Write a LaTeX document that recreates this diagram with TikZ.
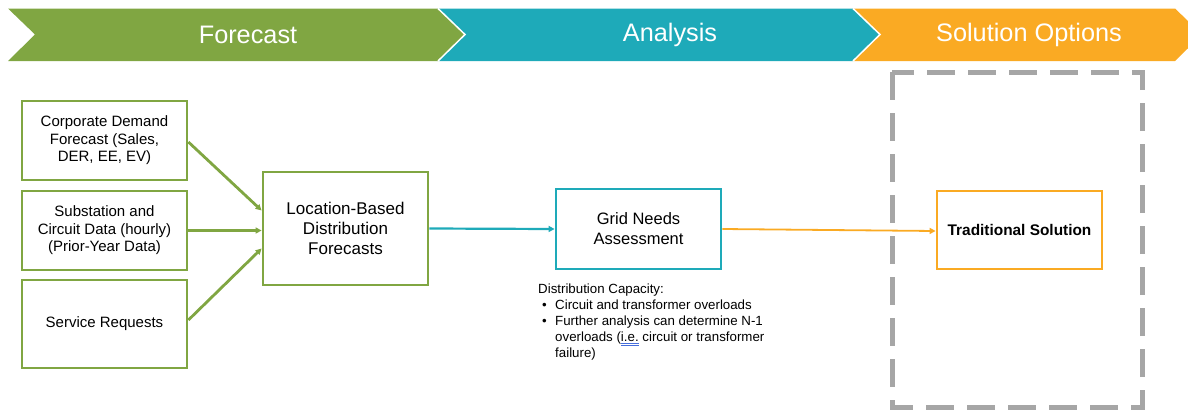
\documentclass[tikz,border=0pt]{standalone}
\usepackage{fontspec}
\setmainfont{Liberation Sans}
\usetikzlibrary{arrows.meta,calc}
\definecolor{cgreen}{RGB}{128,166,66}
\definecolor{cteal}{RGB}{30,170,185}
\definecolor{corange}{RGB}{250,170,35}
\definecolor{cgray}{RGB}{166,166,166}
\definecolor{ulblue}{RGB}{70,110,220}
\newcommand{\dblul}[1]{\setbox0\hbox{#1}\rlap{\color{ulblue}\rule[-2.2pt]{\wd0}{0.7pt}}\rlap{\color{ulblue}\rule[-4pt]{\wd0}{0.7pt}}\box0\relax}
\tikzset{
  chev/.style={draw=white, line width=1.5pt},
  chevtext/.style={text=white, font=\fontsize{25.3}{29}\selectfont},
  srcbox/.style={draw=cgreen, line width=2.8pt, fill=white, minimum width=165pt, align=center, inner sep=0pt, font=\fontsize{15}{17.5}\selectfont},
  mainbox/.style={line width=2.8pt, fill=white, minimum width=165pt, align=center, inner sep=0pt, font=\fontsize{17}{20}\selectfont},
  garrow/.style={draw=cgreen, line width=2.8pt, -{Triangle[length=6pt,width=6pt]}},
  tarrow/.style={draw=cteal, line width=2.2pt, -{Triangle[length=6pt,width=6pt]}},
  oarrow/.style={draw=corange, line width=1.8pt, -{Triangle[length=6pt,width=6pt]}},
}
\begin{document}
\begin{tikzpicture}[x=1pt,y=-1pt]
\useasboundingbox (0,0) rectangle (1188,410);
\begin{scope}
\clip (0,0) rectangle (1188,410);
% chevrons
\fill[cgreen] (8,8.5) -- (438,8.5) -- (465,34.5) -- (438,61) -- (8,61) -- (35,34.5) -- cycle;
\fill[cteal] (438,8.5) -- (853,8.5) -- (880,34.5) -- (853,61) -- (438,61) -- (465,34.5) -- cycle;
\fill[corange] (853,8.5) -- (1175,8.5) -- (1202,34.5) -- (1175,61) -- (853,61) -- (880,34.5) -- cycle;
\draw[chev] (438,8.5) -- (465,34.5) -- (438,61);
\draw[chev] (853,8.5) -- (880,34.5) -- (853,61);
\node[chevtext] (tf) at (248,34.5) {Forecast};
\node[chevtext] (ta) at (670,34.5) {Analysis};
\node[chevtext] (ts) at (1029,34.5) {Solution Options};
% dashed box
\draw[cgray, line width=5pt, dash pattern=on 28pt off 13pt] (892,72) rectangle (1142,407);
\end{scope}
% boxes
\node[srcbox, minimum height=79pt] (b1) at (104.5,140.5) {Corporate Demand\\Forecast (Sales,\\DER, EE, EV)};
\node[srcbox, minimum height=79pt] (b2) at (104.5,230.5) {Substation and\\Circuit Data (hourly)\\(Prior-Year Data)};
\node[srcbox, minimum height=88pt] (b3) at (104.5,324) {Service Requests};
\node[mainbox, draw=cgreen, minimum height=113pt] (loc) at (345.5,228.5) {Location-Based\\Distribution\\Forecasts};
\node[mainbox, draw=cteal, minimum height=80pt, font=\fontsize{16.5}{20}\selectfont] (grid) at (638.5,229) {Grid Needs\\Assessment};
\node[mainbox, draw=corange, minimum height=78pt, font=\bfseries\fontsize{15.4}{18}\selectfont] (trad) at (1019.5,230) {Traditional Solution};
% connectors
\draw[garrow] ($(b1.east)+(0,1.5)$) -- ($(loc.west)+(0,-18)$);
\draw[garrow] (b2.east) -- (b2.east -| loc.west);
\draw[garrow] ($(b3.east)+(0,-4)$) -- ($(loc.west)+(0,20)$);
\draw[tarrow] (loc.east) -- (grid.west);
\draw[oarrow] (grid.east) -- ($(trad.west)+(0,1)$);
% notes
\node[anchor=north west, inner sep=0pt, align=left, font=\fontsize{13.3}{15.8}\selectfont] (note) at (538,284) {%
Distribution Capacity:\\
\makebox[17pt][l]{\hspace{4pt}•}Circuit and transformer overloads\\
\makebox[17pt][l]{\hspace{4pt}•}Further analysis can determine N-1\\
\hspace{17pt}overloads (\dblul{i.e.} circuit or transformer\\
\hspace{17pt}failure)};
\end{tikzpicture}
\end{document}
